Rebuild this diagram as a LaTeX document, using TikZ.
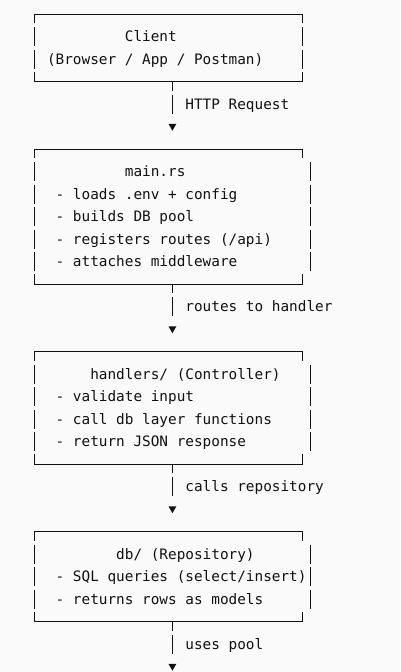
\documentclass[tikz,border=0pt]{standalone}
\usepackage{fontspec}
\newfontfamily\asciifont{DejaVu Sans Mono}
\usetikzlibrary{shapes.geometric}
\definecolor{ink}{HTML}{111111}
\definecolor{paper}{HTML}{FAFAFA}
\newcommand\CX[1]{34+8.65*(#1)}
\newcommand\CL[1]{29.7+8.65*(#1)}
\newcommand\RY[1]{14.2+22.5*(#1)}
\tikzset{
  boxline/.style={draw=ink, line width=1pt},
  txt/.style={anchor=base west, inner sep=0pt, outer sep=0pt, text=ink,
    font=\asciifont\frenchspacing\fontsize{14.37}{18}\selectfont},
  conn/.style={draw=ink, line width=1pt, dash pattern=on 9pt off 3.9pt on 19.2pt off 40pt},
  tip/.style={regular polygon, regular polygon sides=3, shape border rotate=180,
    fill=ink, minimum size=9pt, inner sep=0pt, outer sep=0pt},
}
\newcommand\asciibox[3]{%
  \draw[boxline] ({\CX{0}},{\RY{#1}+9}) -- ({\CX{0}},{\RY{#1}}) -- ({\CX{31}},{\RY{#1}}) -- ({\CX{31}},{\RY{#1}+9});
  \draw[boxline] ({\CX{0}},{\RY{#2}-10}) -- ({\CX{0}},{\RY{#2}}) -- ({\CX{31}},{\RY{#2}}) -- ({\CX{31}},{\RY{#2}-10});
  \pgfmathtruncatemacro\rowa{#1+1}%
  \pgfmathtruncatemacro\rowb{#2-1}%
  \foreach \r in {\rowa,...,\rowb}{
    \draw[boxline] ({\CX{0}},{\RY{\r}-9.6}) -- ({\CX{0}},{\RY{\r}+9.6});
    \draw[boxline] ({\CX{#3}},{\RY{\r}-9.6}) -- ({\CX{#3}},{\RY{\r}+9.6});
  }%
}
\begin{document}
\begin{tikzpicture}[x=1pt,y=-1pt]
\useasboundingbox (0,0) rectangle (400,672);
\fill[paper] (0,0) rectangle (400,672);

% Box 1: Client
\asciibox{0}{3}{31}
\node[txt] (client) at ({\CL{11}},{\RY{1}+5.2}) {Client};
\node[txt] (clientsub) at ({\CL{2}},{\RY{2}+5.2}) {(Browser / App / Postman)};

% Connector 1
\coordinate (c1s) at ({\CX{16}},{\RY{3}});
\node[tip] (a1) at ({\CX{16}},{\RY{5}-0.5}) {};
\draw[conn] (c1s) -- (a1.north);
\node[txt] (l1) at ({\CL{18}},{\RY{4}+5.2}) {HTTP Request};

% Box 2: main.rs
\asciibox{6}{12}{32}
\node[txt] (main) at ({\CL{11}},{\RY{7}+5.2}) {main.rs};
\node[txt] (main1) at ({\CL{3}},{\RY{8}+5.2}) {- loads .env + config};
\node[txt] (main2) at ({\CL{3}},{\RY{9}+5.2}) {- builds DB pool};
\node[txt] (main3) at ({\CL{3}},{\RY{10}+5.2}) {- registers routes (/api)};
\node[txt] (main4) at ({\CL{3}},{\RY{11}+5.2}) {- attaches middleware};

% Connector 2
\coordinate (c2s) at ({\CX{16}},{\RY{12}});
\node[tip] (a2) at ({\CX{16}},{\RY{14}-0.5}) {};
\draw[conn] (c2s) -- (a2.north);
\node[txt] (l2) at ({\CL{18}},{\RY{13}+5.2}) {routes to handler};

% Box 3: handlers
\asciibox{15}{20}{32}
\node[txt] (ctrl) at ({\CL{7}},{\RY{16}+5.2}) {handlers/ (Controller)};
\node[txt] (ctrl1) at ({\CL{3}},{\RY{17}+5.2}) {- validate input};
\node[txt] (ctrl2) at ({\CL{3}},{\RY{18}+5.2}) {- call db layer functions};
\node[txt] (ctrl3) at ({\CL{3}},{\RY{19}+5.2}) {- return JSON response};

% Connector 3
\coordinate (c3s) at ({\CX{16}},{\RY{20}});
\node[tip] (a3) at ({\CX{16}},{\RY{22}-0.5}) {};
\draw[conn] (c3s) -- (a3.north);
\node[txt] (l3) at ({\CL{18}},{\RY{21}+5.2}) {calls repository};

% Box 4: db
\asciibox{23}{27}{32}
\node[txt] (repo) at ({\CL{10}},{\RY{24}+5.2}) {db/ (Repository)};
\node[txt] (repo1) at ({\CL{3}},{\RY{25}+5.2}) {- SQL queries (select/insert)};
\node[txt] (repo2) at ({\CL{3}},{\RY{26}+5.2}) {- returns rows as models};

% Connector 4
\coordinate (c4s) at ({\CX{16}},{\RY{27}});
\node[tip] (a4) at ({\CX{16}},{\RY{29}-0.5}) {};
\draw[conn] (c4s) -- (a4.north);
\node[txt] (l4) at ({\CL{18}},{\RY{28}+5.2}) {uses pool};
\end{tikzpicture}
\end{document}
